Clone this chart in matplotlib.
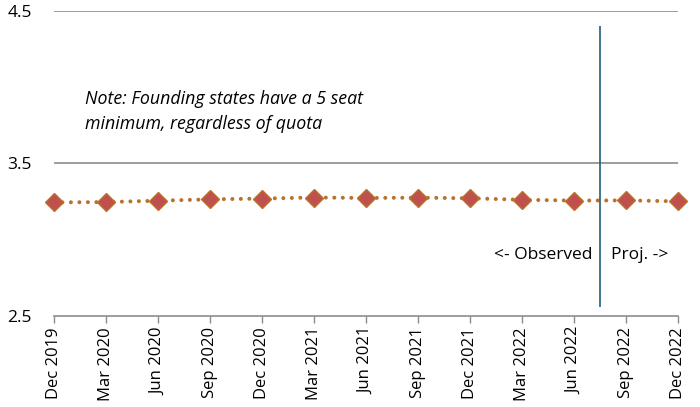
import matplotlib
matplotlib.use("Agg")
import matplotlib.pyplot as plt

categories = ["Dec 2019", "Mar 2020", "Jun 2020", "Sep 2020", "Dec 2020", "Mar 2021",
              "Jun 2021", "Sep 2021", "Dec 2021", "Mar 2022", "Jun 2022", "Sep 2022", "Dec 2022"]
values = [3.245, 3.247, 3.256, 3.265, 3.270, 3.277, 3.274, 3.276, 3.272, 3.262, 3.257, 3.258, 3.252]
yticks = [2.5, 3.5, 4.5]
divider_x = 10.5
divider_y = (2.56, 4.4)

plt.rcParams['font.family'] = ['Open Sans', 'DejaVu Sans']

fig = plt.figure(figsize=(7.0, 4.07), dpi=100)
ax = fig.add_axes([0.077, 0.2236, 0.892, 0.7494])

x = list(range(len(categories)))
ax.plot(x, values, linestyle=(0, (0.01, 2.1)), linewidth=2.9, color="#B8722C",
        dash_capstyle="round", marker="D", markersize=9.5,
        markerfacecolor="#C0504D", markeredgecolor="#B8722C", markeredgewidth=1.0,
        clip_on=False, zorder=3)

ax.vlines(divider_x, divider_y[0], divider_y[1], color="#215E78", linewidth=1.2, zorder=4)

ax.set_xlim(0, len(categories) - 1)
ax.set_ylim(yticks[0], yticks[-1])
ax.set_yticks(yticks)
ax.set_yticklabels([f"{t:.1f}" for t in yticks], fontsize=12.5)
ax.set_xticks(x)
ax.set_xticklabels(categories, rotation=90, fontsize=12)

for t in yticks[1:]:
    ax.axhline(t, color="#8C8C8C", linewidth=1.2, zorder=1)

for s in ["top", "right", "left"]:
    ax.spines[s].set_visible(False)
ax.spines["bottom"].set_color("#8C8C8C")
ax.spines["bottom"].set_linewidth(1.2)
ax.tick_params(axis="y", length=0, pad=16)
ax.tick_params(axis="x", length=5, color="#8C8C8C", width=1, pad=3)

ax.text(0.6, 3.98, "Note: Founding states have a 5 seat\nminimum, regardless of quota",
        fontsize=12.8, style="italic", va="top", ha="left", linespacing=1.45)
ax.text(10.35, 2.9, "<- Observed", fontsize=12.5, ha="right", va="center")
ax.text(10.7, 2.9, "Proj. ->", fontsize=12.5, ha="left", va="center")

fig.savefig("out.png", dpi=100)
